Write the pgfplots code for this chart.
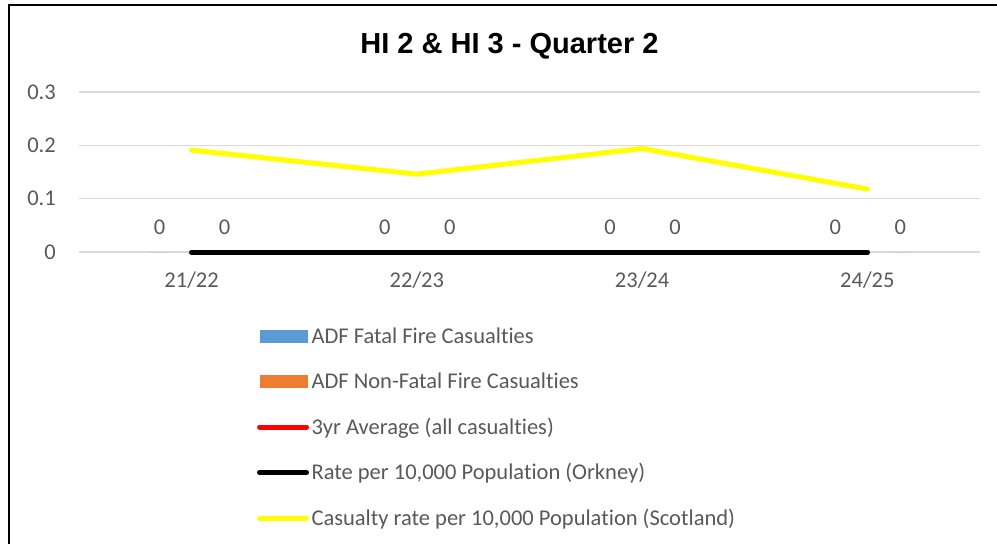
\documentclass[border=0pt]{standalone}
\usepackage{pgfplots}
\pgfplotsset{compat=1.18}
\usepackage{fontspec}
\setmainfont{Carlito}[Ligatures=NoCommon]
\newfontfamily\titlefont{Liberation Sans}
\definecolor{ticktext}{HTML}{595959}
\definecolor{gridc}{HTML}{D9D9D9}
\definecolor{xlblue}{HTML}{5B9BD5}
\definecolor{xlorange}{HTML}{ED7D31}
\definecolor{xlyellow}{HTML}{FFFF00}
\begin{document}
\begin{tikzpicture}[x=1pt,y=1pt]
\useasboundingbox (0,0) rectangle (997,544);
\clip (0,0) rectangle (997,544);
\draw[line width=1.5pt] (9,-20) -- (9,539) -- (1020,539);
\node[anchor=base, font=\titlefont\bfseries\fontsize{29}{31}\selectfont] at (509.5,490.8) {HI 2 \& HI 3 - Quarter 2};
\begin{axis}[
  at={(79pt,292pt)}, anchor=south west,
  scale only axis, width=901pt, height=160pt,
  xmin=-0.5, xmax=3.5, ymin=0, ymax=0.3,
  clip=false,
  axis line style={draw=none},
  major tick length=0pt,
  xtick={0,1,2,3},
  xticklabels={21/22,22/23,23/24,24/25},
  ytick={0,0.1,0.2,0.3},
  yticklabels={0,0.1,0.2,0.3},
  ymajorgrids,
  grid style={gridc, line width=1.5pt},
  ticklabel style={font=\fontsize{22.5}{25}\selectfont, text=ticktext, inner sep=0pt},
  yticklabel style={anchor=east, xshift=-23pt},
  xticklabel style={anchor=center, yshift=-28.5pt},
  /pgf/number format/assume math mode=true,
  legend cell align=left,
  legend style={draw=none, fill=none, at={(0.1976,-0.4625)}, anchor=north west,
    inner sep=0pt, outer sep=0pt, row sep=25.5pt, column sep=2.5pt,
    font=\fontsize{22.5}{25}\selectfont, text=ticktext,
    nodes={inner sep=0pt, text height=17pt, text depth=3pt}},
]
\addplot[ybar, bar width=20pt, bar shift=-32pt, draw=none, fill=xlblue,
  nodes near coords, nodes near coords style={anchor=center, xshift=-32pt, yshift=24.5pt, text=ticktext, font=\fontsize{22.5}{25}\selectfont, inner sep=0pt},
  legend image code/.code={\fill[xlblue] (0pt,-6.5pt) rectangle (48pt,6.5pt);}]
  coordinates {(0,0) (1,0) (2,0) (3,0)};
\addlegendentry{ADF Fatal Fire Casualties}
\addplot[ybar, bar width=20pt, bar shift=33pt, draw=none, fill=xlorange,
  nodes near coords, nodes near coords style={anchor=center, xshift=33pt, yshift=24.5pt, text=ticktext, font=\fontsize{22.5}{25}\selectfont, inner sep=0pt},
  legend image code/.code={\fill[xlorange] (0pt,-6.5pt) rectangle (48pt,6.5pt);}]
  coordinates {(0,0) (1,0) (2,0) (3,0)};
\addlegendentry{ADF Non-Fatal Fire Casualties}
\addplot[sharp plot, red, line width=5pt, line cap=round, line join=round,
  legend image code/.code={\draw[red, line width=5pt, line cap=round] (0pt,0pt) -- (47pt,0pt);}]
  coordinates {(0,0) (1,0) (2,0) (3,0)};
\addlegendentry{3yr Average (all casualties)}
\addplot[sharp plot, black, line width=5pt, line cap=round, line join=round,
  legend image code/.code={\draw[black, line width=5pt, line cap=round] (0pt,0pt) -- (47pt,0pt);}]
  coordinates {(0,0) (1,0) (2,0) (3,0)};
\addlegendentry{Rate per 10,000 Population (Orkney)}
\addplot[sharp plot, xlyellow, line width=5pt, line cap=round, line join=round,
  legend image code/.code={\draw[xlyellow, line width=5pt, line cap=round] (0pt,0pt) -- (47pt,0pt);}]
  coordinates {(0,0.191) (1,0.146) (2,0.194) (3,0.118)};
\addlegendentry{Casualty rate per 10,000 Population (Scotland)}
\end{axis}
\end{tikzpicture}
\end{document}
